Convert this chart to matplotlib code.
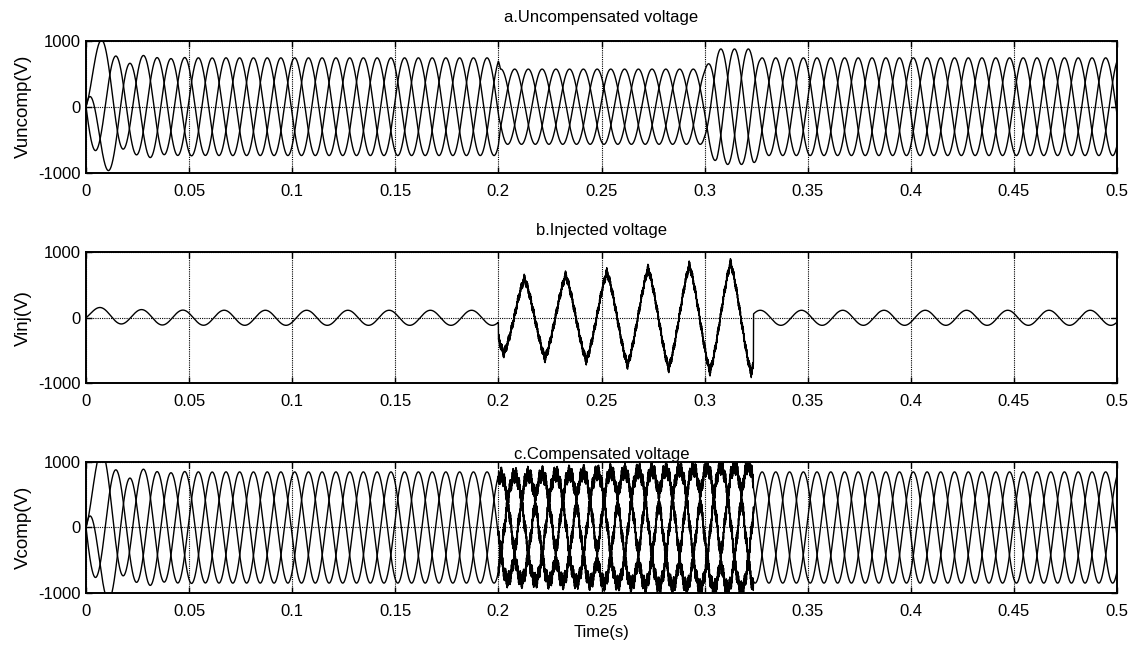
import numpy as np
import matplotlib
matplotlib.use('Agg')
import matplotlib.pyplot as plt

plt.rcParams['font.family'] = ['Liberation Sans', 'DejaVu Sans']

# ---------------- data ----------------
F_HZ = 50.0
T_END = 0.5
N_SAMPLES = 20001

x_ticks = [0, 0.05, 0.1, 0.15, 0.2, 0.25, 0.3, 0.35, 0.4, 0.45, 0.5]
x_tick_labels = ['0', '0.05', '0.1', '0.15', '0.2', '0.25', '0.3', '0.35', '0.4', '0.45', '0.5']
y_ticks = [-1000, 0, 1000]
y_tick_labels = ['-1000', '0', '1000']

titles = ['a.Uncompensated voltage', 'b.Injected voltage', 'c.Compensated voltage']
y_labels = ['Vuncomp(V)', 'Vinj(V)', 'Vcomp(V)']
x_label = 'Time(s)'

# uncompensated phase amplitude envelope (V) at breakpoints (s): sag 0.2-0.3, swell 0.3-0.325
uncomp_env_t = [0.0, 0.2, 0.201, 0.3, 0.306, 0.3235, 0.327, 0.5]
uncomp_env_v = [740, 740, 570, 570, 875, 875, 740, 740]
# time of the crest of each phase within the first cycle (s)
phase_peak_t = [0.0145, 0.0012, 0.0079]
# start-up offset of each phase (fraction of amplitude) and its decay constant (s)
start_offset = [0.16, -0.93, 0.79]
START_TAU = 0.010

# compensated voltage: normal amplitude and envelope while the compensator acts
COMP_AMP = 845
comp_env_t = [0.2, 0.25, 0.3, 0.325]
comp_env_v = [790, 840, 910, 950]
COMP_RIPPLE = 130
COMP_END = 0.3237

# injected voltage: small steady component
INJ_SMALL_AMP = 115
INJ_SMALL_PEAK_T = 0.007
INJ_START_OFFSET = 68
INJ_OFFSET_TAU = 0.0144
# injected voltage while compensating: crests and troughs
inj_peak_t = [0.2126, 0.2330, 0.2532, 0.2726, 0.2927, 0.3126]
inj_peak_v = [602, 653, 704, 755, 806, 842]
inj_trough_t = [0.2024, 0.2226, 0.2427, 0.2629, 0.2823, 0.3024, 0.3226]
inj_trough_v = [-546, -622, -658, -724, -775, -826, -852]
INJ_RIPPLE = 70
INJ_START = 0.2
INJ_END = 0.3237

# ---------------- waveforms ----------------
t = np.linspace(0, T_END, N_SAMPLES)
w = 2 * np.pi * F_HZ


def ripple(tt, ph):
    return (0.35 * np.sin(2 * np.pi * 650 * tt + ph)
            + 0.65 * np.sin(2 * np.pi * 4300 * tt + 1.7 * ph + 1.3))


amp_unc = np.interp(t, uncomp_env_t, uncomp_env_v)

comp_win = (t >= comp_env_t[0]) & (t < COMP_END)
amp_cmp = np.where(comp_win, np.interp(t, comp_env_t, comp_env_v), COMP_AMP)

v_unc, v_cmp = [], []
for k, (tp, off) in enumerate(zip(phase_peak_t, start_offset)):
    base = np.cos(w * (t - tp))
    dc = np.exp(-t / START_TAU)
    v_unc.append(amp_unc * base + off * uncomp_env_v[0] * dc)
    rip = np.where(comp_win, COMP_RIPPLE * ripple(t, 2.1 * k), 0.0)
    v_cmp.append(amp_cmp * base + off * COMP_AMP * dc + rip)

small = (INJ_SMALL_AMP * np.cos(w * (t - INJ_SMALL_PEAK_T))
         + INJ_START_OFFSET * np.exp(-t / INJ_OFFSET_TAU))
c = np.cos(w * (t - inj_peak_t[0]))
shape = 0.35 * c + 0.65 * (2 / np.pi) * np.arcsin(np.clip(c, -1, 1))
up = np.interp(t, inj_peak_t, inj_peak_v)
lo = np.interp(t, inj_trough_t, inj_trough_v)
big = np.where(shape >= 0, shape * up, -shape * lo) + INJ_RIPPLE * ripple(t, 0.7)
v_inj = np.where((t >= INJ_START) & (t < INJ_END), big, small)

# ---------------- figure ----------------
fig = plt.figure(figsize=(11.33, 6.48), dpi=100)
W, H = 1133, 648
left, right = 86, 1117
axes_px = [(40.7, 172.7), (252.3, 383.3), (461.7, 593.3)]
title_off_px = [23, 22, 7]

series = [v_unc, [v_inj], v_cmp]

for i, (top, bot) in enumerate(axes_px):
    ax = fig.add_axes([left / W, 1 - bot / H, (right - left) / W, (bot - top) / H])
    for v in series[i]:
        ax.plot(t, v, color='black', lw=1.0)
    ax.set_xlim(0, 0.5)
    ax.set_ylim(-1000, 1000)
    ax.set_xticks(x_ticks)
    ax.set_xticklabels(x_tick_labels)
    ax.set_yticks(y_ticks)
    ax.set_yticklabels(y_tick_labels)
    ax.grid(True, linestyle=(0, (1, 1)), color='black', lw=0.8)
    ax.tick_params(direction='in', length=4, width=1, top=True, right=True,
                   labelsize=12, colors='black')
    ax.tick_params(axis='x', pad=8)
    ax.tick_params(axis='y', pad=4)
    for s in ax.spines.values():
        s.set_linewidth(1.4)
    ax.set_ylabel(y_labels[i], fontsize=13.5, labelpad=4)
    ax.text(0.5, 1 + title_off_px[i] / (bot - top), titles[i], transform=ax.transAxes,
            ha='center', va='center', fontsize=12)
    if i == 2:
        ax.set_xlabel(x_label, fontsize=12, labelpad=4)

fig.savefig('out.png', dpi=100)
